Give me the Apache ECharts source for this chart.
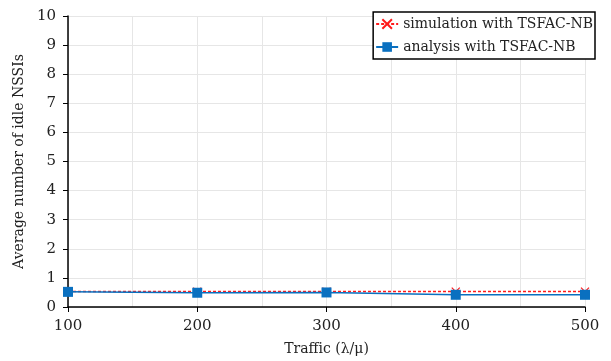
<!DOCTYPE html>
<html>
<head>
<meta charset="utf-8">
<script src="https://cdn.jsdelivr.net/npm/echarts@6/dist/echarts.min.js"></script>
<style>
  html, body { margin: 0; padding: 0; background: #fff; }
  #chart { width: 611px; height: 361px; }
</style>
</head>
<body>
<div id="chart"></div>
<script>
// traffic values on the x axis
const traffic = [100, 200, 300, 400, 500];
// average number of idle NSSIs
const simulation = [0.53, 0.53, 0.53, 0.53, 0.53];
const analysis = [0.52, 0.49, 0.50, 0.42, 0.42];

const seriesNames = ['simulation with TSFAC-NB', 'analysis with TSFAC-NB'];
const fontFam = '"DejaVu Serif", "Liberation Serif", serif';

const chart = echarts.init(document.getElementById('chart'));

const option = {
  animation: false,
  textStyle: { fontFamily: fontFam },
  grid: { left: 68, right: 26, top: 16, bottom: 54 },
  legend: {
    right: 16,
    top: 12,
    orient: 'vertical',
    itemGap: 9,
    itemWidth: 22,
    itemHeight: 12,
    padding: [5, 2, 5, 2],
    borderColor: '#000',
    borderWidth: 1.5,
    backgroundColor: '#fff',
    textStyle: { fontFamily: fontFam, fontSize: 14, color: '#222' },
    data: seriesNames
  },
  xAxis: {
    type: 'value',
    min: 100,
    max: 500,
    interval: 100,
    name: 'Traffic (λ/μ)',
    nameLocation: 'middle',
    nameGap: 35,
    nameTextStyle: { fontFamily: fontFam, fontSize: 14, color: '#222' },
    axisLine: { lineStyle: { color: '#000', width: 1.5 } },
    axisTick: { show: true, length: 5, lineStyle: { color: '#000' } },
    axisLabel: { fontFamily: fontFam, fontSize: 15, color: '#222', margin: 12 },
    splitLine: { show: true, lineStyle: { color: '#e6e6e6' } },
    minorTick: { show: false, splitNumber: 2 },
    minorSplitLine: { show: true, lineStyle: { color: '#e6e6e6' } }
  },
  yAxis: {
    type: 'value',
    min: 0,
    max: 10,
    interval: 1,
    name: 'Average number of idle NSSIs',
    nameLocation: 'middle',
    nameGap: 38,
    nameTextStyle: { fontFamily: fontFam, fontSize: 14, color: '#222' },
    axisLine: { show: true, lineStyle: { color: '#000', width: 1.5 } },
    axisTick: { show: true, length: 5, lineStyle: { color: '#000' } },
    axisLabel: { fontFamily: fontFam, fontSize: 15, color: '#222', margin: 12 },
    splitLine: { show: true, lineStyle: { color: '#e6e6e6' } }
  },
  series: [
    {
      name: seriesNames[0],
      type: 'line',
      data: traffic.map((x, i) => [x, simulation[i]]),
      symbol: 'path://M0,0 L10,10 M10,0 L0,10',
      symbolSize: 8,
      itemStyle: { color: '#ff1a1a', borderColor: '#ff1a1a', borderWidth: 1.2 },
      lineStyle: { color: '#ff1a1a', width: 1.5, type: [3, 2] },
      z: 2
    },
    {
      name: seriesNames[1],
      type: 'line',
      data: traffic.map((x, i) => [x, analysis[i]]),
      symbol: 'rect',
      symbolSize: 10,
      itemStyle: { color: '#0a70c0' },
      lineStyle: { color: '#0a70c0', width: 1.5 },
      z: 3
    }
  ]
};

chart.setOption(option);
</script>
</body>
</html>
